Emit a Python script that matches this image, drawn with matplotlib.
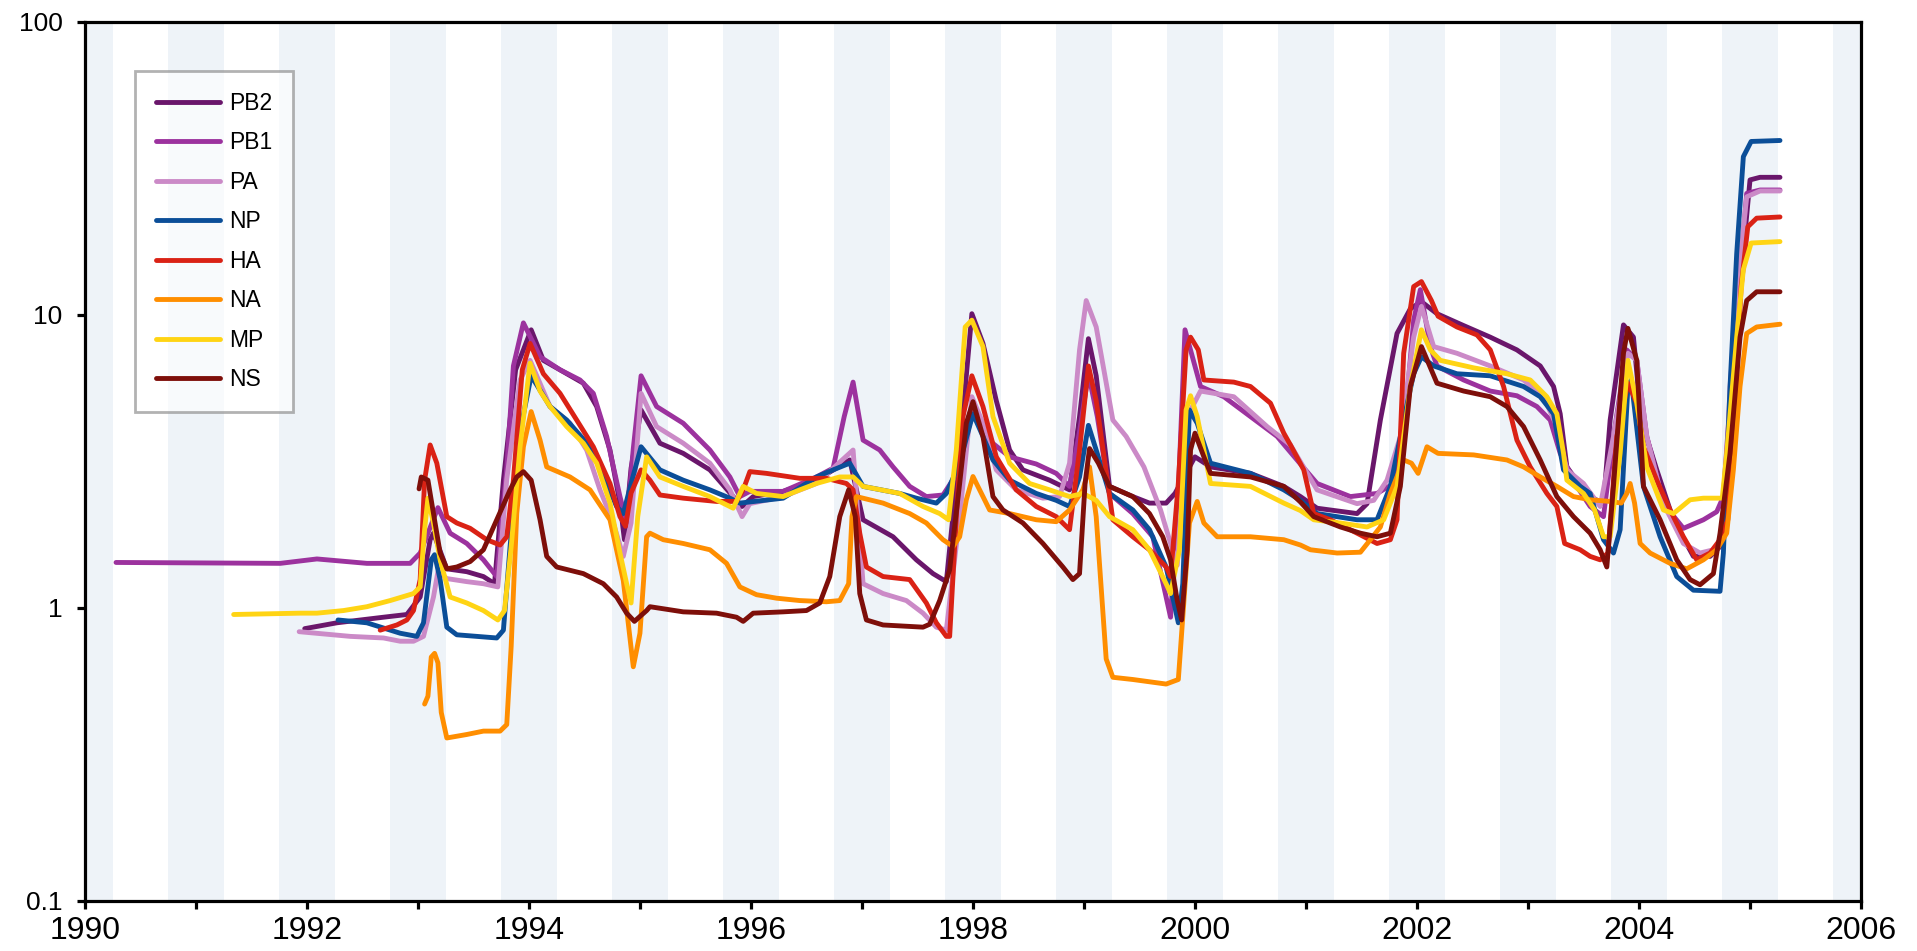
import matplotlib
matplotlib.use("Agg")
import matplotlib.pyplot as plt
from matplotlib.ticker import FixedLocator, MultipleLocator, NullLocator

# gene segments, keypoints (year, value)
pb2_x = [1991.98, 1992.27, 1992.69, 1992.90, 1993.02, 1993.11, 1993.14, 1993.26, 1993.44, 1993.59,
         1993.69, 1993.77, 1993.88, 1994.02, 1994.13, 1994.31, 1994.49, 1994.61, 1994.73, 1994.82,
         1994.86, 1994.92, 1995.01, 1995.18, 1995.39, 1995.63, 1995.84, 1995.92, 1996.02, 1996.29,
         1996.59, 1996.89, 1997.01, 1997.28, 1997.49, 1997.64, 1997.76, 1997.88, 1997.99, 1998.09,
         1998.21, 1998.33, 1998.45, 1998.69, 1998.87, 1998.96, 1999.04, 1999.11, 1999.23, 1999.44,
         1999.59, 1999.74, 1999.82, 2000.00, 2000.14, 2000.50, 2000.80, 2000.95, 2001.10, 2001.46,
         2001.55, 2001.67, 2001.82, 2001.94, 2002.04, 2002.18, 2002.42, 2002.66, 2002.90, 2003.11,
         2003.23, 2003.29, 2003.35, 2003.50, 2003.56, 2003.68, 2003.74, 2003.86, 2003.95, 2004.02,
         2004.16, 2004.31, 2004.49, 2004.64, 2004.73, 2004.79, 2004.91, 2005.00, 2005.09, 2005.27]
pb2_y = [0.85, 0.89, 0.93, 0.95, 1.09, 1.71, 1.80, 1.36, 1.33, 1.28,
         1.21, 2.73, 6.5, 8.9, 7.0, 6.4, 5.85, 4.87, 3.46, 2.28,
         1.71, 3.0, 4.74, 3.65, 3.37, 2.96, 2.4, 2.22, 2.4, 2.5,
         2.73, 3.2, 2.0, 1.75, 1.46, 1.31, 1.23, 3.46, 10.1, 8.0,
         5.1, 3.46, 2.96, 2.73, 2.53, 4.5, 8.3, 6.2, 2.6, 2.4,
         2.28, 2.28, 2.46, 3.28, 3.03, 2.88, 2.6, 2.4, 2.19, 2.1,
         2.27, 4.38, 8.65, 10.5, 11.1, 10.1, 9.2, 8.4, 7.6, 6.7,
         5.7, 4.6, 3.03, 2.53, 2.4, 2.27, 4.38, 9.25, 8.4, 4.38,
         2.96, 2.0, 1.5, 1.5, 1.62, 2.6, 12.5, 28.9, 29.5, 29.5]

pb1_x = [1990.28, 1991.76, 1992.09, 1992.54, 1992.93, 1993.02, 1993.18, 1993.29, 1993.44, 1993.59,
         1993.71, 1993.80, 1993.86, 1993.95, 1994.10, 1994.28, 1994.46, 1994.58, 1994.70, 1994.82,
         1994.88, 1994.94, 1995.01, 1995.15, 1995.39, 1995.63, 1995.81, 1995.90, 1995.99, 1996.29,
         1996.59, 1996.74, 1996.84, 1996.92, 1997.01, 1997.16, 1997.28, 1997.43, 1997.58, 1997.73,
         1997.82, 1997.94, 1998.00, 1998.12, 1998.33, 1998.57, 1998.75, 1998.87, 1998.96, 1999.04,
         1999.12, 1999.23, 1999.44, 1999.62, 1999.78, 1999.85, 1999.91, 2000.05, 2000.26, 2000.50,
         2000.74, 2000.95, 2001.10, 2001.40, 2001.64, 2001.79, 2001.88, 2001.97, 2002.03, 2002.12,
         2002.18, 2002.42, 2002.66, 2002.90, 2003.08, 2003.20, 2003.29, 2003.44, 2003.56, 2003.68,
         2003.77, 2003.89, 2003.98, 2004.07, 2004.22, 2004.40, 2004.58, 2004.70, 2004.76, 2004.85,
         2004.97, 2005.09, 2005.27]
pb1_y = [1.43, 1.42, 1.47, 1.42, 1.42, 1.54, 2.2, 1.80, 1.66, 1.46,
         1.28, 3.0, 6.7, 9.4, 7.2, 6.5, 6.0, 5.4, 3.85, 2.4,
         1.95, 3.5, 6.2, 4.87, 4.27, 3.46, 2.8, 2.4, 2.5, 2.5,
         2.8, 3.0, 4.5, 5.9, 3.74, 3.46, 3.03, 2.6, 2.4, 2.43,
         2.74, 3.85, 4.7, 3.8, 3.28, 3.1, 2.88, 2.6, 4.0, 6.3,
         4.5, 2.46, 2.1, 1.75, 0.93, 2.5, 8.9, 5.7, 5.26, 4.5,
         3.85, 3.1, 2.66, 2.4, 2.46, 2.66, 3.85, 9.6, 12.2, 7.8,
         6.7, 6.0, 5.5, 5.3, 4.87, 4.38, 3.37, 2.6, 2.22, 2.05,
         3.85, 7.6, 7.0, 3.85, 2.27, 1.87, 2.0, 2.13, 2.4, 7.4,
         26.0, 26.7, 26.7]

pa_x = [1991.93, 1992.39, 1992.69, 1992.84, 1992.96, 1993.05, 1993.14, 1993.18, 1993.26, 1993.44,
        1993.59, 1993.72, 1993.80, 1993.92, 1994.01, 1994.19, 1994.37, 1994.52, 1994.64, 1994.76,
        1994.85, 1994.92, 1995.01, 1995.15, 1995.39, 1995.63, 1995.81, 1995.92, 1995.99, 1996.29,
        1996.59, 1996.92, 1997.01, 1997.19, 1997.40, 1997.55, 1997.67, 1997.76, 1997.88, 1997.99,
        1998.09, 1998.21, 1998.39, 1998.63, 1998.78, 1998.87, 1998.96, 1999.02, 1999.11, 1999.26,
        1999.38, 1999.54, 1999.69, 1999.78, 1999.84, 1999.93, 2000.05, 2000.35, 2000.65, 2000.86,
        2001.10, 2001.46, 2001.61, 2001.73, 2001.85, 2001.97, 2002.04, 2002.15, 2002.36, 2002.66,
        2002.96, 2003.14, 2003.26, 2003.35, 2003.50, 2003.65, 2003.77, 2003.90, 2003.98, 2004.07,
        2004.22, 2004.40, 2004.55, 2004.67, 2004.76, 2004.82, 2004.91, 2004.97, 2005.09, 2005.27]
pa_y = [0.83, 0.80, 0.79, 0.77, 0.77, 0.80, 1.09, 1.33, 1.26, 1.23,
        1.21, 1.18, 2.75, 6.0, 7.0, 4.87, 4.27, 3.46, 2.53, 1.95,
        1.5, 1.95, 5.4, 4.16, 3.65, 3.12, 2.53, 2.05, 2.27, 2.4,
        2.66, 3.46, 1.21, 1.12, 1.06, 0.96, 0.86, 0.84, 2.05, 5.26,
        4.27, 2.96, 2.53, 2.37, 2.4, 3.12, 7.6, 11.2, 9.1, 4.38,
        3.85, 3.03, 2.16, 1.66, 1.4, 4.5, 5.5, 5.26, 4.16, 3.6,
        2.53, 2.27, 2.33, 2.73, 3.85, 8.4, 10.7, 7.8, 7.4, 6.7,
        6.0, 5.26, 4.16, 2.96, 2.66, 2.22, 3.85, 7.4, 7.0, 3.85,
        2.27, 1.66, 1.54, 1.58, 1.75, 5.7, 15.4, 25.3, 26.5, 26.5]

np_x = [1992.28, 1992.54, 1992.84, 1992.99, 1993.05, 1993.12, 1993.15, 1993.20, 1993.26, 1993.35,
        1993.71, 1993.77, 1993.83, 1993.92, 1994.02, 1994.19, 1994.34, 1994.55, 1994.70, 1994.79,
        1994.85, 1994.92, 1995.01, 1995.18, 1995.39, 1995.63, 1995.81, 1995.90, 1996.29, 1996.59,
        1996.74, 1996.89, 1997.01, 1997.34, 1997.49, 1997.67, 1997.76, 1997.88, 1998.00, 1998.09,
        1998.18, 1998.33, 1998.57, 1998.75, 1998.87, 1998.96, 1999.04, 1999.11, 1999.23, 1999.44,
        1999.59, 1999.74, 1999.85, 1999.89, 1999.95, 2000.02, 2000.14, 2000.50, 2000.80, 2000.95,
        2001.10, 2001.46, 2001.64, 2001.76, 2001.88, 2001.97, 2002.04, 2002.15, 2002.36, 2002.66,
        2002.96, 2003.11, 2003.23, 2003.32, 2003.47, 2003.56, 2003.68, 2003.77, 2003.83, 2003.90,
        2003.93, 2004.04, 2004.19, 2004.34, 2004.49, 2004.73, 2004.76, 2004.82, 2004.88, 2004.94,
        2005.01, 2005.27]
np_y = [0.91, 0.89, 0.82, 0.80, 0.89, 1.46, 1.52, 1.25, 0.86, 0.81,
        0.79, 0.84, 1.62, 4.0, 6.2, 4.87, 4.38, 3.55, 2.66, 2.22,
        2.1, 2.66, 3.55, 2.96, 2.73, 2.53, 2.37, 2.28, 2.37, 2.8,
        2.96, 3.12, 2.6, 2.46, 2.37, 2.28, 2.46, 3.12, 4.6, 3.85,
        3.2, 2.73, 2.46, 2.33, 2.22, 2.8, 4.2, 3.46, 2.46, 2.16,
        1.85, 1.38, 0.89, 1.21, 4.74, 4.27, 3.12, 2.88, 2.53, 2.33,
        2.1, 2.0, 2.0, 2.6, 4.38, 6.3, 7.2, 6.7, 6.3, 6.2,
        5.7, 5.26, 4.6, 2.96, 2.6, 2.46, 1.71, 1.54, 1.85, 5.7,
        6.0, 2.6, 1.75, 1.28, 1.15, 1.14, 1.54, 5.7, 16.2, 34.7,
        39.1, 39.4]

ha_x = [1992.66, 1992.81, 1992.90, 1992.96, 1993.02, 1993.06, 1993.11, 1993.17, 1993.26, 1993.35,
        1993.47, 1993.62, 1993.74, 1993.80, 1993.86, 1993.94, 1994.01, 1994.13, 1994.28, 1994.43,
        1994.58, 1994.73, 1994.82, 1994.87, 1994.92, 1995.01, 1995.09, 1995.18, 1995.39, 1995.69,
        1995.87, 1995.93, 1995.99, 1996.14, 1996.44, 1996.68, 1996.86, 1996.92, 1996.98, 1997.04,
        1997.19, 1997.43, 1997.58, 1997.67, 1997.76, 1997.79, 1997.85, 1997.91, 1997.99, 1998.09,
        1998.21, 1998.39, 1998.57, 1998.75, 1998.87, 1998.96, 1999.04, 1999.11, 1999.26, 1999.44,
        1999.59, 1999.74, 1999.78, 1999.85, 1999.92, 1999.96, 2000.03, 2000.08, 2000.35, 2000.50,
        2000.68, 2000.80, 2000.86, 2000.98, 2001.07, 2001.22, 2001.46, 2001.64, 2001.76, 2001.82,
        2001.88, 2001.97, 2002.04, 2002.13, 2002.19, 2002.36, 2002.54, 2002.66, 2002.78, 2002.90,
        2003.02, 2003.17, 2003.26, 2003.33, 2003.47, 2003.56, 2003.65, 2003.72, 2003.80, 2003.90,
        2003.98, 2004.04, 2004.16, 2004.28, 2004.40, 2004.52, 2004.64, 2004.73, 2004.80, 2004.86,
        2004.92, 2004.98, 2005.06, 2005.27]
ha_y = [0.84, 0.875, 0.91, 0.98, 1.25, 2.73, 3.6, 3.12, 2.05, 1.95,
        1.87, 1.71, 1.64, 1.75, 2.73, 6.5, 8.0, 6.3, 5.4, 4.38,
        3.55, 2.66, 2.05, 1.9, 2.47, 2.96, 2.73, 2.43, 2.37, 2.31,
        2.31, 2.53, 2.92, 2.88, 2.77, 2.77, 2.66, 2.53, 1.8, 1.38,
        1.28, 1.25, 1.04, 0.89, 0.80, 0.80, 2.05, 4.5, 6.2, 4.87,
        3.28, 2.53, 2.22, 2.05, 1.85, 3.46, 6.7, 5.1, 2.0, 1.75,
        1.58, 1.38, 1.28, 2.67, 7.6, 8.4, 7.6, 6.0, 5.9, 5.7,
        5.0, 3.95, 3.6, 2.96, 2.1, 2.0, 1.8, 1.66, 1.71, 2.0,
        7.4, 12.5, 13.0, 11.2, 9.9, 9.1, 8.55, 7.6, 5.7, 3.74,
        3.03, 2.46, 2.22, 1.66, 1.58, 1.5, 1.46, 1.54, 3.85, 5.85,
        5.0, 3.55, 2.73, 2.16, 1.75, 1.46, 1.54, 1.71, 2.0, 4.38,
        12.5, 20.0, 21.4, 21.6]

na_x = [1993.06, 1993.09, 1993.12, 1993.15, 1993.18, 1993.21, 1993.26, 1993.44, 1993.59, 1993.74,
        1993.80, 1993.84, 1993.89, 1993.95, 1994.02, 1994.10, 1994.16, 1994.37, 1994.55, 1994.73,
        1994.85, 1994.94, 1995.00, 1995.06, 1995.09, 1995.21, 1995.39, 1995.63, 1995.78, 1995.90,
        1996.05, 1996.23, 1996.44, 1996.68, 1996.80, 1996.88, 1996.91, 1996.95, 1997.19, 1997.43,
        1997.58, 1997.73, 1997.82, 1997.88, 1997.94, 1998.00, 1998.09, 1998.15, 1998.33, 1998.57,
        1998.75, 1998.87, 1998.99, 1999.05, 1999.11, 1999.20, 1999.26, 1999.44, 1999.74, 1999.85,
        1999.89, 1999.95, 2000.02, 2000.08, 2000.20, 2000.50, 2000.80, 2000.95, 2001.04, 2001.28,
        2001.49, 2001.58, 2001.67, 2001.76, 2001.88, 2001.95, 2002.01, 2002.09, 2002.19, 2002.51,
        2002.81, 2002.96, 2003.11, 2003.26, 2003.41, 2003.56, 2003.74, 2003.84, 2003.89, 2003.92,
        2003.96, 2004.01, 2004.10, 2004.28, 2004.43, 2004.58, 2004.70, 2004.79, 2004.85, 2004.91,
        2004.97, 2005.06, 2005.27]
na_y = [0.47, 0.50, 0.68, 0.70, 0.65, 0.44, 0.36, 0.37, 0.38, 0.38,
        0.40, 0.74, 2.1, 3.55, 4.68, 3.74, 3.03, 2.8, 2.53, 2.0,
        1.24, 0.63, 0.82, 1.75, 1.80, 1.71, 1.66, 1.58, 1.42, 1.18,
        1.11, 1.08, 1.06, 1.05, 1.06, 1.21, 2.05, 2.4, 2.28, 2.1,
        1.95, 1.71, 1.62, 1.75, 2.34, 2.81, 2.4, 2.16, 2.1, 2.0,
        1.97, 2.16, 2.53, 3.03, 2.05, 0.67, 0.58, 0.57, 0.55, 0.57,
        0.93, 1.95, 2.31, 1.95, 1.75, 1.75, 1.71, 1.64, 1.58, 1.54,
        1.55, 1.71, 1.89, 2.46, 3.2, 3.12, 2.88, 3.55, 3.37, 3.33,
        3.2, 3.03, 2.8, 2.6, 2.4, 2.34, 2.31, 2.28, 2.46, 2.66,
        2.28, 1.66, 1.54, 1.42, 1.36, 1.46, 1.58, 1.8, 2.96, 5.7,
        8.65, 9.1, 9.3]

mp_x = [1991.34, 1991.94, 1992.09, 1992.33, 1992.54, 1992.75, 1992.96, 1993.02, 1993.06, 1993.09,
        1993.14, 1993.20, 1993.29, 1993.44, 1993.59, 1993.72, 1993.78, 1993.84, 1993.92, 1994.01,
        1994.10, 1994.19, 1994.34, 1994.49, 1994.61, 1994.73, 1994.82, 1994.88, 1994.92, 1994.98,
        1995.06, 1995.18, 1995.39, 1995.63, 1995.84, 1995.93, 1996.05, 1996.29, 1996.44, 1996.59,
        1996.80, 1996.92, 1997.01, 1997.34, 1997.55, 1997.70, 1997.78, 1997.85, 1997.93, 1997.99,
        1998.09, 1998.18, 1998.33, 1998.51, 1998.69, 1998.87, 1998.99, 1999.11, 1999.23, 1999.44,
        1999.59, 1999.74, 1999.78, 1999.86, 1999.92, 1999.96, 2000.02, 2000.14, 2000.50, 2000.80,
        2000.95, 2001.07, 2001.31, 2001.55, 2001.70, 2001.82, 2001.94, 2002.04, 2002.12, 2002.21,
        2002.51, 2002.81, 2003.02, 2003.17, 2003.26, 2003.32, 2003.35, 2003.50, 2003.60, 2003.68,
        2003.74, 2003.83, 2003.90, 2003.98, 2004.07, 2004.22, 2004.31, 2004.46, 2004.58, 2004.75,
        2004.79, 2004.88, 2004.94, 2005.01, 2005.27]
mp_y = [0.95, 0.96, 0.96, 0.98, 1.01, 1.06, 1.12, 1.18, 1.85, 2.37,
        1.95, 1.46, 1.09, 1.04, 0.98, 0.91, 0.98, 1.62, 3.55, 6.85,
        5.5, 4.87, 4.16, 3.65, 3.12, 2.28, 1.54, 1.21, 1.04, 2.05,
        3.28, 2.8, 2.6, 2.4, 2.19, 2.6, 2.46, 2.4, 2.53, 2.66,
        2.8, 2.8, 2.6, 2.46, 2.22, 2.1, 2.0, 3.46, 9.1, 9.6,
        7.8, 4.5, 3.12, 2.66, 2.53, 2.4, 2.46, 2.33, 2.05, 1.85,
        1.58, 1.21, 1.12, 1.58, 4.74, 5.3, 4.5, 2.66, 2.6, 2.28,
        2.15, 2.0, 1.95, 1.89, 2.0, 2.6, 5.7, 8.9, 7.6, 7.0,
        6.6, 6.3, 6.0, 5.26, 4.6, 3.37, 2.73, 2.46, 2.16, 1.75,
        1.75, 3.37, 7.0, 5.0, 3.03, 2.16, 2.1, 2.34, 2.37, 2.37,
        3.37, 8.4, 14.3, 17.6, 17.8]

ns_x = [1993.01, 1993.03, 1993.09, 1993.14, 1993.20, 1993.26, 1993.35, 1993.47, 1993.59, 1993.71,
        1993.83, 1993.89, 1993.95, 1994.02, 1994.10, 1994.16, 1994.25, 1994.49, 1994.67, 1994.79,
        1994.88, 1994.95, 1995.06, 1995.09, 1995.39, 1995.69, 1995.87, 1995.93, 1996.02, 1996.29,
        1996.50, 1996.62, 1996.71, 1996.80, 1996.88, 1996.94, 1996.98, 1997.04, 1997.19, 1997.55,
        1997.61, 1997.70, 1997.79, 1997.88, 1997.94, 1998.00, 1998.09, 1998.18, 1998.27, 1998.45,
        1998.63, 1998.81, 1998.90, 1998.96, 1999.01, 1999.05, 1999.13, 1999.23, 1999.44, 1999.59,
        1999.71, 1999.78, 1999.84, 1999.88, 1999.93, 1999.96, 2000.00, 2000.08, 2000.14, 2000.50,
        2000.80, 2000.95, 2001.07, 2001.31, 2001.49, 2001.64, 2001.76, 2001.85, 2001.94, 2002.04,
        2002.18, 2002.42, 2002.66, 2002.81, 2002.96, 2003.11, 2003.26, 2003.41, 2003.56, 2003.65,
        2003.71, 2003.77, 2003.86, 2003.90, 2003.98, 2004.04, 2004.19, 2004.34, 2004.46, 2004.55,
        2004.67, 2004.73, 2004.82, 2004.91, 2004.97, 2005.06, 2005.27]
ns_y = [2.55, 2.8, 2.73, 2.1, 1.54, 1.36, 1.38, 1.44, 1.58, 2.0,
        2.53, 2.8, 2.92, 2.73, 2.0, 1.5, 1.38, 1.31, 1.21, 1.09,
        0.96, 0.90, 0.98, 1.01, 0.97, 0.96, 0.93, 0.90, 0.96, 0.97,
        0.98, 1.04, 1.28, 2.05, 2.53, 2.05, 1.12, 0.91, 0.875, 0.86,
        0.88, 1.06, 1.35, 2.66, 4.27, 5.06, 3.85, 2.4, 2.16, 1.95,
        1.66, 1.38, 1.25, 1.31, 2.66, 3.5, 3.12, 2.6, 2.4, 2.1,
        1.75, 1.46, 1.06, 0.91, 1.58, 3.46, 3.95, 3.28, 2.88, 2.8,
        2.6, 2.3, 2.05, 1.89, 1.8, 1.75, 1.8, 2.6, 5.7, 7.8,
        5.85, 5.5, 5.26, 4.87, 4.16, 3.2, 2.4, 2.05, 1.8, 1.58,
        1.38, 2.6, 7.4, 9.0, 7.0, 2.6, 2.0, 1.46, 1.25, 1.2,
        1.31, 1.8, 3.37, 8.4, 11.2, 12.0, 12.0]

names = ["PB2", "PB1", "PA", "NP", "HA", "NA", "MP", "NS"]
colors = ["#6a166b", "#9c329e", "#cb8ac7", "#0b4e98", "#da2215", "#ff8e00", "#ffd414", "#7e0f0a"]
series = [(pb2_x, pb2_y), (pb1_x, pb1_y), (pa_x, pa_y), (np_x, np_y),
          (ha_x, ha_y), (na_x, na_y), (mp_x, mp_y), (ns_x, ns_y)]

fig = plt.figure(figsize=(19.17, 9.51), dpi=100)
ax = fig.add_axes([0.0443, 0.0526, 0.9265, 0.9243])

# winter bands around each new year
for yr in range(1990, 2007):
    ax.axvspan(yr - 0.25, yr + 0.25, color="#eef3f8", lw=0, zorder=0)

for (xs, ys), name, c in zip(series, names, colors):
    ax.plot(xs, ys, color=c, lw=3.5, label=name, solid_capstyle="round",
            solid_joinstyle="round", zorder=2)

ax.set_yscale("log")
ax.set_ylim(0.1, 100)
ax.set_xlim(1990, 2006)
ax.yaxis.set_major_locator(FixedLocator([0.1, 1, 10, 100]))
ax.yaxis.set_minor_locator(NullLocator())
ax.set_yticklabels(["0.1", "1", "10", "100"])
ax.xaxis.set_major_locator(MultipleLocator(2))
ax.xaxis.set_minor_locator(MultipleLocator(1))
ax.set_xticklabels([str(int(v)) for v in ax.get_xticks()])

for s in ax.spines.values():
    s.set_linewidth(2.3)
ax.tick_params(axis="both", which="both", direction="out", length=6, width=2.3)
ax.tick_params(axis="y", pad=10, labelsize=19, labelfontfamily="Liberation Sans")
ax.tick_params(axis="x", pad=5, labelsize=23, labelfontfamily="Liberation Sans")

leg = ax.legend(loc="upper left", bbox_to_anchor=(0.0282, 0.944), borderaxespad=0,
                fancybox=False, handlelength=2.8, handletextpad=0.4, labelspacing=0.72,
                borderpad=0.9, prop={"family": "Liberation Sans", "size": 16.5})
leg.get_frame().set_edgecolor("#808080")
leg.get_frame().set_linewidth(2)
leg.get_frame().set_facecolor("white")
leg.get_frame().set_alpha(0.6)

fig.savefig("out.png", dpi=100)
